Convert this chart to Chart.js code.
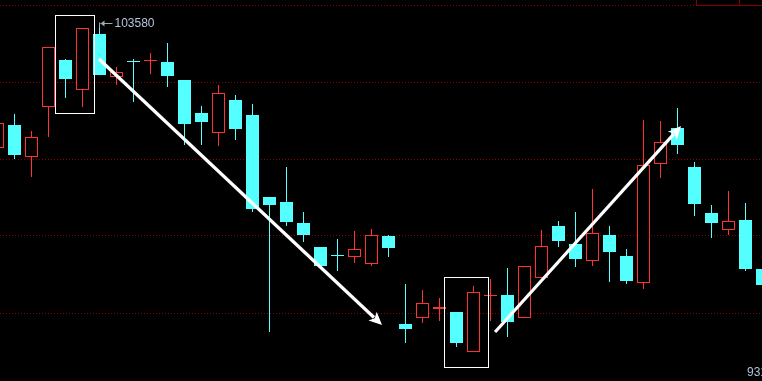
<!DOCTYPE html>
<html>
<head>
<meta charset="utf-8">
<script src="https://cdn.jsdelivr.net/npm/chart.js@4.4.1/dist/chart.umd.min.js"></script>
<style>
  html, body { margin: 0; padding: 0; background: #000; }
</style>
</head>
<body>
<canvas id="kline" width="762" height="381"></canvas>
<script>
// daily candles, left to right (prices)
const opens  = [99830,100520,99560,101060,102470,101570,103250,101960,102440,102440,102410,101870,100880,100280,101270,100820,98360,98210,97580,96860,96620,96560,96350,97190,94550,94730,95000,94910,93710,95390,95420,94730,95930,97490,96950,96440,97220,96590,95780,99350,100430,99260,97880,97370,97670,96200];
const highs  = [100580,100850,100340,102860,102500,103430,103580,102260,102500,102680,102980,101870,101090,101720,101420,101150,98360,99260,97910,96860,97100,97340,97400,97220,95750,95570,95330,94910,95690,95900,96230,96290,97370,97640,97910,98600,97490,96800,100670,100640,101030,99410,98120,98540,98180,96200];
const lows   = [99830,99500,98960,100160,101330,101060,102020,101720,101210,102050,101660,99920,99920,99890,100070,97910,94310,97490,97010,96290,96140,96380,96290,96560,93980,94580,94640,93860,93710,94640,94160,94730,95930,96860,96260,96290,95810,95750,95600,98930,99650,97790,97130,97220,96140,95720];
const closes = [100580,99620,100160,102860,101900,103430,102020,102110,102410,102470,101990,100550,100610,101480,100400,98000,98120,97610,97220,96290,96590,96800,97220,96830,94400,95180,95060,93980,95510,95420,94610,96290,96890,97040,96500,97280,96710,95840,99320,100010,99920,98150,97580,97640,96200,95720];

const gridLevels = [104120, 101810, 99500, 97190, 94880];
const axisLabel = '93140';

const UP = '#ff3232', DOWN = '#54ffff';
const idx = opens.map((_, i) => i);
const isUp = i => closes[i] >= opens[i];

// hand drawn marks on top of the chart, in data units
const boxes = [
  { x0: 3.38, x1: 5.68, y0: 103820, y1: 100880 },
  { x0: 26.26, x1: 28.85, y0: 95960, y1: 93260 }
];
const arrows = [
  { x0: 5.97, y0: 102500, x1: 22.62, y1: 94520 },
  { x0: 29.27, y0: 94310, x1: 40.21, y1: 100490 }
];

const paintBg = {
  id: 'paintBg',
  beforeDraw(c) {
    const g = c.ctx;
    g.save(); g.fillStyle = '#000'; g.fillRect(0, 0, c.width, c.height); g.restore();
  }
};

function arrowLine(g, x0, y0, x1, y1) {
  const a = Math.atan2(y1 - y0, x1 - x0), len = 13, hw = 6;
  const bx = x1 - Math.cos(a) * len, by = y1 - Math.sin(a) * len;
  g.beginPath(); g.moveTo(x0, y0); g.lineTo(bx + Math.cos(a) * 2, by + Math.sin(a) * 2); g.stroke();
  g.beginPath();
  g.moveTo(x1, y1);
  g.lineTo(bx + Math.sin(a) * hw, by - Math.cos(a) * hw);
  g.lineTo(bx + Math.cos(a) * 3, by + Math.sin(a) * 3);
  g.lineTo(bx - Math.sin(a) * hw, by + Math.cos(a) * hw);
  g.closePath(); g.fill();
}

const overlays = {
  id: 'overlays',
  afterDatasetsDraw(c) {
    const g = c.ctx, xs = c.scales.x, ys = c.scales.y;
    g.save();
    g.strokeStyle = '#fff'; g.lineWidth = 1;
    boxes.forEach(b => {
      const l = Math.round(xs.getPixelForValue(b.x0)) + 0.5, r = Math.round(xs.getPixelForValue(b.x1)) + 0.5;
      const t = Math.round(ys.getPixelForValue(b.y0)) + 0.5, btm = Math.round(ys.getPixelForValue(b.y1)) + 0.5;
      g.strokeRect(l, t, r - l, btm - t);
    });
    g.lineWidth = 3.2; g.fillStyle = '#fff';
    arrows.forEach(a => arrowLine(g, xs.getPixelForValue(a.x0), ys.getPixelForValue(a.y0), xs.getPixelForValue(a.x1), ys.getPixelForValue(a.y1)));

    // highest price marker
    const top = Math.max(...highs), ti = highs.indexOf(top);
    const hx = Math.round(xs.getPixelForValue(ti)) - 0.5, hy = Math.round(ys.getPixelForValue(top)) + 0.5;
    g.strokeStyle = '#a0a8b4'; g.fillStyle = '#a0a8b4'; g.lineWidth = 1;
    g.beginPath(); g.moveTo(hx, hy - 1); g.lineTo(hx, hy + 4); g.stroke();
    g.beginPath(); g.moveTo(hx + 1, hy); g.lineTo(hx + 13, hy); g.stroke();
    g.beginPath(); g.moveTo(hx + 1, hy); g.lineTo(hx + 5, hy - 3); g.lineTo(hx + 5, hy + 3); g.closePath(); g.fill();
    g.font = '12px "Liberation Sans", Arial, sans-serif';
    g.fillStyle = '#b4c4dc'; g.textBaseline = 'middle';
    g.fillText(String(top), hx + 15, hy + 0.5);

    // cut-off price label, bottom right
    g.fillStyle = '#a8c4e0'; g.textBaseline = 'alphabetic';
    g.fillText(axisLabel, 747, 376);

    // tool buttons clipped at the top right
    g.strokeStyle = '#8b0000';
    g.beginPath();
    g.moveTo(696, 5.5); g.lineTo(762, 5.5);
    g.moveTo(696.5, 0); g.lineTo(696.5, 5);
    g.moveTo(739.5, 0); g.lineTo(739.5, 5);
    g.stroke();
    g.restore();
  }
};

new Chart(document.getElementById('kline'), {
  type: 'bar',
  data: {
    datasets: [
      {
        label: 'body',
        data: idx.map(i => ({ x: i, y: [opens[i], closes[i]] })),
        backgroundColor: c => isUp(c.dataIndex) ? '#000' : DOWN,
        borderColor: c => isUp(c.dataIndex) ? UP : DOWN,
        borderWidth: c => isUp(c.dataIndex) ? 1 : 0,
        borderSkipped: false, grouped: false, maxBarThickness: 13, minBarLength: 1,
        barPercentage: 1, categoryPercentage: 1, inflateAmount: 0
      },
      {
        label: 'wick',
        data: idx.map(i => ({ x: i, y: [lows[i], highs[i]] })),
        backgroundColor: c => isUp(c.dataIndex) ? UP : DOWN,
        borderWidth: 0, grouped: false, maxBarThickness: 1,
        barPercentage: 1, categoryPercentage: 1, inflateAmount: 0
      }
    ]
  },
  options: {
    responsive: false,
    animation: false,
    layout: { padding: 0 },
    plugins: { legend: { display: false }, tooltip: { enabled: false } },
    scales: {
      x: { type: 'linear', display: false, min: 2.5 / 17, max: 2.5 / 17 + 762 / 17, offset: false },
      y: {
        min: 92840, max: 104270,
        afterBuildTicks: s => { s.ticks = gridLevels.map(v => ({ value: v })); },
        ticks: { display: false },
        border: { display: false, dash: [1, 2] },
        grid: { color: '#8b0000', drawTicks: false, lineWidth: 1 }
      }
    }
  },
  plugins: [paintBg, overlays]
});
</script>
</body>
</html>
